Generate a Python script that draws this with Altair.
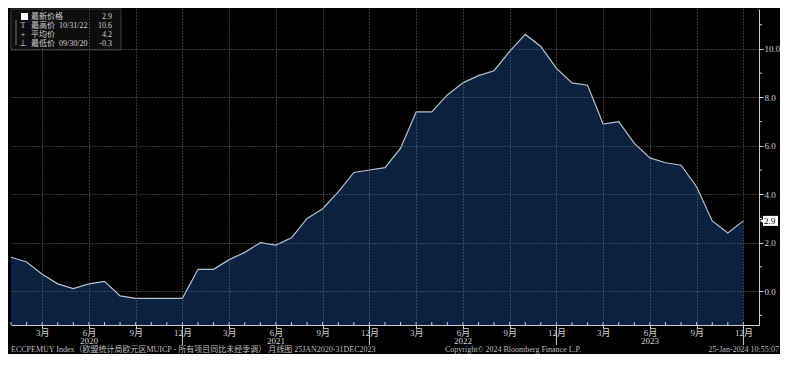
import altair as alt
import pandas as pd

# ---- data -------------------------------------------------------------
months = [f"{y}-{m:02d}" for y in (2020, 2021, 2022, 2023) for m in range(1, 13)]
values = [
    1.4, 1.2, 0.7, 0.3, 0.1, 0.3, 0.4, -0.2, -0.3, -0.3, -0.3, -0.3,
    0.9, 0.9, 1.3, 1.6, 2.0, 1.9, 2.2, 3.0, 3.4, 4.1, 4.9, 5.0,
    5.1, 5.9, 7.4, 7.4, 8.1, 8.6, 8.9, 9.1, 9.9, 10.6, 10.1, 9.2,
    8.6, 8.5, 6.9, 7.0, 6.1, 5.5, 5.3, 5.2, 4.3, 2.9, 2.4, 2.9,
]
quarter_idx = [2, 5, 8, 11, 14, 17, 20, 23, 26, 29, 32, 35, 38, 41, 44, 47]
quarter_labels = ["3月", "6月", "9月", "12月"] * 4
year_idx = [5, 17, 29, 41]
year_labels = ["2020", "2021", "2022", "2023"]
year_end_idx = [11, 23, 35, 47]
y_major = [0, 2, 4, 6, 8, 10]
y_minor = [-1, 1, 3, 5, 7, 9, 11]

legend_names = ["最新价格", "最高价", "平均价", "最低价"]
legend_dates = ["", "10/31/22", "", "09/30/20"]
legend_values = ["2.9", "10.6", "4.2", "-0.3"]
legend_marks = ["", "T", "+", "⊥"]

footer_left = "ECCPEMUY Index（欧盟统计局欧元区MUICP - 所有项目同比未经季调） 月线图 25JAN2020-31DEC2023"
footer_mid = "Copyright© 2024 Bloomberg Finance L.P."
footer_right = "25-Jan-2024 10:55:07"

# ---- layout ------------------------------------------------------------
W, H = 748, 316
FONT = "Liberation Serif, Noto Sans CJK SC, serif"
TXT = "#d0d0d0"
XDOM = [0, 48]
YDOM = [-1.4, 11.65]

df = pd.DataFrame({"i": list(range(len(values))), "month": months, "v": values})
df["base"] = YDOM[0]
last = df.tail(1)

xs = alt.Scale(domain=XDOM, nice=False, zero=False)
ys = alt.Scale(domain=YDOM, nice=False, zero=False)

qlabel_expr = "{" + ",".join(f"'{i}':'{l}'" for i, l in zip(quarter_idx, quarter_labels)) + "}[datum.value]"

base = alt.Chart(df)

area = base.mark_area(color="#0a2240", opacity=1).encode(
    x=alt.X("i:Q", scale=xs,
            axis=alt.Axis(values=quarter_idx, labelExpr=qlabel_expr, title=None,
                          grid=True, gridColor="#6a6a6a", gridDash=[1, 2], gridWidth=1,
                          domainColor="#cfcfcf", tickColor="#cfcfcf", tickSize=3,
                          labelColor=TXT, labelFont=FONT, labelFontSize=9,
                          labelPadding=0, zindex=1)),
    y=alt.Y("v:Q", scale=ys,
            axis=alt.Axis(orient="right", values=y_major, format=".1f", title=None,
                          grid=True, gridColor="#6a6a6a", gridDash=[1, 2], gridWidth=1,
                          domainColor="#cfcfcf", tickColor="#cfcfcf", tickSize=4,
                          labelColor=TXT, labelFont=FONT, labelFontSize=9,
                          labelPadding=1, zindex=1)),
    y2="base:Q",
)

line = base.mark_line(color="#b8c0cc", strokeWidth=1.2).encode(
    x=alt.X("i:Q", scale=xs), y=alt.Y("v:Q", scale=ys)
)

layers = [area, line]

# monthly minor ticks on x axis
layers.append(alt.Chart(pd.DataFrame({"i": list(range(48))})).mark_rule(color="#cfcfcf").encode(
    x=alt.X("i:Q", scale=xs), y=alt.value(H - 3), y2=alt.value(H)
))
# year separators extending below axis
layers.append(alt.Chart(pd.DataFrame({"i": year_end_idx})).mark_rule(color="#cfcfcf").encode(
    x=alt.X("i:Q", scale=xs), y=alt.value(H), y2=alt.value(H + 20)
))
# minor y ticks
layers.append(alt.Chart(pd.DataFrame({"v": y_minor})).mark_rule(color="#cfcfcf").encode(
    y=alt.Y("v:Q", scale=ys), x=alt.value(W), x2=alt.value(W + 3)
))
layers.append(alt.Chart(pd.DataFrame({"i": year_idx, "t": year_labels})).mark_text(
    color=TXT, font=FONT, fontSize=9, baseline="top"
).encode(x=alt.X("i:Q", scale=xs), y=alt.value(H + 12), text="t:N"))

# last value tag on right axis
layers.append(alt.Chart(last).mark_rect(color="#ffffff", yOffset=-5, y2Offset=5).encode(
    y=alt.Y("v:Q", scale=ys), y2="v:Q", x=alt.value(W + 4), x2=alt.value(W + 19)
))
layers.append(alt.Chart(last).mark_point(shape="triangle-left", filled=True, color="#ffffff",
                                         size=25, opacity=1).encode(
    y=alt.Y("v:Q", scale=ys), x=alt.value(W + 3)
))
layers.append(alt.Chart(last).mark_text(color="#000000", font=FONT, fontSize=9, align="left").encode(
    y=alt.Y("v:Q", scale=ys), x=alt.value(W + 5), text=alt.Text("v:Q", format=".1f")
))

# legend box (top-left)
one = pd.DataFrame({"a": [0]})
layers.append(alt.Chart(one).mark_rect(fill="#0e0e0e", stroke="#3c3c3c").encode(
    x=alt.value(0), x2=alt.value(110), y=alt.value(0), y2=alt.value(41)
))
layers.append(alt.Chart(one).mark_rect(fill="#ffffff").encode(
    x=alt.value(10), x2=alt.value(17), y=alt.value(4), y2=alt.value(11)
))
layers.append(alt.Chart(one).mark_rule(color="#777777").encode(
    x=alt.value(5), y=alt.value(11), y2=alt.value(36)
))
ROW = 9
leg_common = dict(color=TXT, font=FONT, fontSize=8, baseline="middle")
for r in range(4):
    yv = alt.value(8 + r * ROW)
    layers.append(alt.Chart(one).mark_text(align="left", text=legend_names[r], **leg_common).encode(
        x=alt.value(20), y=yv))
    if legend_dates[r]:
        layers.append(alt.Chart(one).mark_text(align="left", text=legend_dates[r], **leg_common).encode(
            x=alt.value(48), y=yv))
    layers.append(alt.Chart(one).mark_text(align="right", text=legend_values[r], **leg_common).encode(
        x=alt.value(101), y=yv))
    if legend_marks[r]:
        layers.append(alt.Chart(one).mark_text(align="center", text=legend_marks[r], **leg_common).encode(
            x=alt.value(12), y=yv))

# footer
foot_common = dict(color="#bfbfbf", font=FONT, fontSize=8, baseline="top")
layers.append(alt.Chart(one).mark_text(align="left", text=footer_left, **foot_common).encode(
    x=alt.value(0), y=alt.value(H + 21)))
layers.append(alt.Chart(one).mark_text(align="left", text=footer_mid, **foot_common).encode(
    x=alt.value(434), y=alt.value(H + 21)))
layers.append(alt.Chart(one).mark_text(align="right", text=footer_right, **foot_common).encode(
    x=alt.value(W + 20), y=alt.value(H + 21)))

chart = alt.layer(*layers).properties(
    width=W, height=H, background="#000000", padding=0
).configure_view(stroke=None)

chart.save("out.html", embed_options={"renderer": "svg", "actions": False})
